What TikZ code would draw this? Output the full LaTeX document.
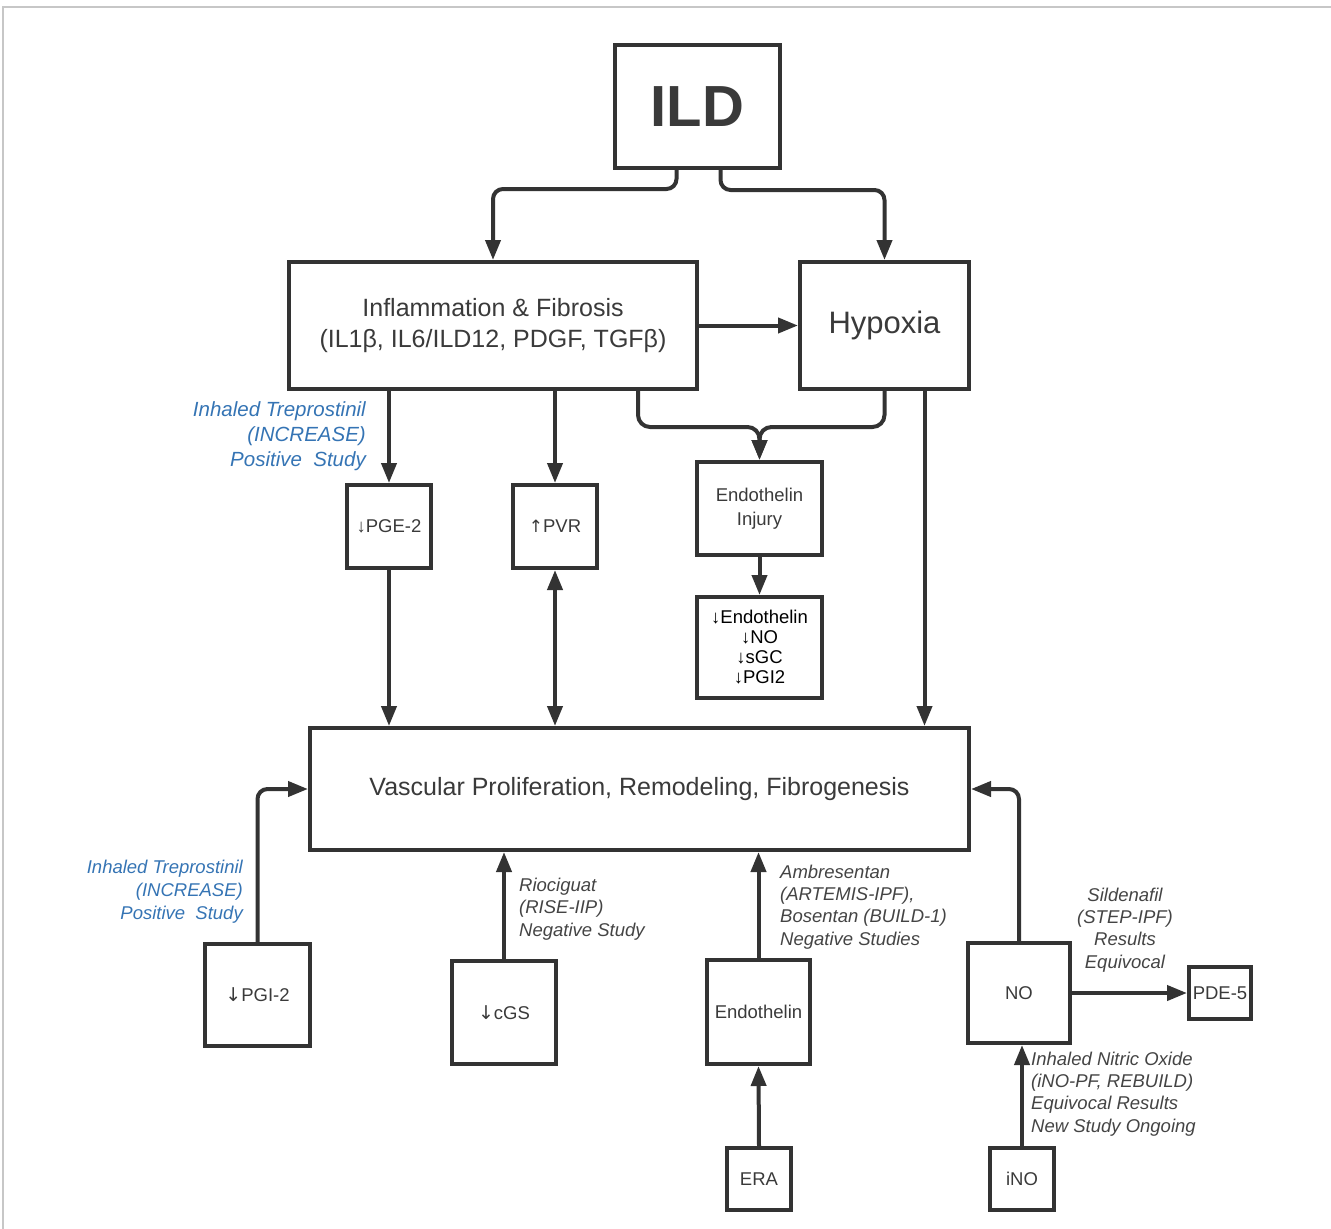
\documentclass[tikz,border=0pt]{standalone}
\usepackage{fontspec}
\setmainfont{Liberation Sans}
\newfontfamily\arrfont{DejaVu Sans}
\usetikzlibrary{arrows.meta}
\definecolor{ln}{HTML}{333333}
\definecolor{tx}{HTML}{3A3A3A}
\definecolor{bl}{HTML}{3574B4}
\definecolor{lb}{HTML}{444444}
\tikzset{
  box/.style={draw=ln, line width=4pt, inner sep=0pt, text=tx, align=center},
  arr/.style={draw=ln, line width=4pt, -{Triangle[length=20pt,width=15pt]}},
  arrb/.style={draw=ln, line width=4pt, {Triangle[length=20pt,width=15pt]}-{Triangle[length=20pt,width=15pt]}},
  lab/.style={inner sep=0pt, text=lb, font=\fontsize{18.5}{22.3}\selectfont\itshape},
  blab/.style={inner sep=0pt, text=bl, align=right},
  sbox/.style={box, font=\fontsize{18.5}{22}\selectfont}
}
\begin{document}
\begin{tikzpicture}[x=1pt,y=-1pt]
\useasboundingbox (0,0) rectangle (1331,1229);
\draw[black!22, line width=2pt] (3,1229) -- (3,7) -- (1331,7);

\node[box, minimum width=165pt, minimum height=123pt, font=\fontsize{58}{60}\selectfont\bfseries] (ild) at (697.5,106.5) {ILD};
\node[box, minimum width=408pt, minimum height=127pt, font=\fontsize{25}{31}\selectfont] (infl) at (493,325.5) {Inflammation \& Fibrosis\\(IL1β, IL6/ILD12, PDGF, TGFβ)};
\node[box, minimum width=169pt, minimum height=127pt, font=\fontsize{31}{34}\selectfont] (hyp) at (884.5,325.5) {Hypoxia};
\node[sbox, minimum width=84pt, minimum height=83pt] (pge) at (389,526.5) {↓PGE-2};
\node[sbox, minimum width=84pt, minimum height=83pt] (pvr) at (555,526.5) {{\arrfont\fontsize{17}{20}\selectfont ↑}PVR};
\node[sbox, minimum width=125pt, minimum height=93pt, font=\fontsize{18.5}{24}\selectfont] (einj) at (759.5,508.5) {Endothelin\\Injury};
\node[sbox, minimum width=125pt, minimum height=101pt, text=black, font=\fontsize{18.5}{20}\selectfont] (edown) at (759.5,647.5) {↓Endothelin\\↓NO\\↓sGC\\↓PGI2};
\node[box, minimum width=659pt, minimum height=122pt, font=\fontsize{25}{30}\selectfont] (vasc) at (639.5,789) {Vascular Proliferation, Remodeling, Fibrogenesis};
\node[sbox, minimum width=105pt, minimum height=102pt] (pgi) at (257.5,995) {{\arrfont\fontsize{19}{20}\selectfont ↓}PGI-2};
\node[sbox, minimum width=104pt, minimum height=103pt] (cgs) at (504,1012.5) {{\arrfont\fontsize{19}{20}\selectfont ↓}cGS};
\node[sbox, minimum width=103pt, minimum height=104pt] (endo) at (758.5,1012) {Endothelin};
\node[sbox, minimum width=102pt, minimum height=100pt] (no) at (1019,993) {NO};
\node[sbox, minimum width=62pt, minimum height=52pt] (pde) at (1220,993) {PDE-5};
\node[sbox, minimum width=64pt, minimum height=62pt] (era) at (759,1179) {ERA};
\node[sbox, minimum width=64pt, minimum height=62pt] (ino) at (1022,1179) {iNO};

% connectors
\draw[arr, rounded corners=10pt] ([xshift=-21pt]ild.south) -- ++(0,19) -| (infl.north);
\draw[arr, rounded corners=10pt] ([xshift=23pt]ild.south) -- ++(0,20) -| (hyp.north);
\draw[arr] (infl.east) -- (hyp.west);
\draw[arr] (pge.north |- infl.south) -- (pge.north);
\draw[arr] (pvr.north |- infl.south) -- (pvr.north);
\draw[arr, rounded corners=12pt] ([xshift=145pt]infl.south) -- ++(0,36) -| (einj.north);
\draw[arr, rounded corners=12pt] (hyp.south) -- ++(0,36) -| (einj.north);
\draw[arr] (einj.south) -- (edown.north);
\draw[arr] (pge.south) -- (pge.south |- vasc.north);
\draw[arrb] (pvr.south) -- (pvr.south |- vasc.north);
\draw[arr] ([xshift=40pt]hyp.south) -- ([xshift=40pt]hyp.south |- vasc.north);
\draw[arr, rounded corners=10pt] (pgi.north) |- (vasc.west);
\draw[arr] (cgs.north) -- (cgs.north |- vasc.south);
\draw[arr] (endo.north) -- (endo.north |- vasc.south);
\draw[arr] (era.north) -- (endo.south);
\draw[arr, rounded corners=10pt] (no.north) |- (vasc.east);
\draw[arr] (no.east) -- (pde.west);
\draw[arr] (ino.north) -- (ino.north |- no.south);

% labels
\node[blab, anchor=east, font=\fontsize{20.5}{25}\selectfont\itshape] (t1) at (366,436) {Inhaled Treprostinil\\(INCREASE)\\Positive\ \ Study};
\node[blab, anchor=east, font=\fontsize{18.5}{23}\selectfont\itshape] (t2) at (243,892) {Inhaled Treprostinil\\(INCREASE)\\Positive\ \ Study};
\node[lab, anchor=west, align=left] (rio) at (519,909) {Riociguat\\(RISE-IIP)\\Negative Study};
\node[lab, anchor=west, align=left] (amb) at (780,907) {Ambresentan\\(ARTEMIS-IPF),\\Bosentan (BUILD-1)\\Negative Studies};
\node[lab, align=center] (sil) at (1125,930) {Sildenafil\\(STEP-IPF)\\Results\\Equivocal};
\node[lab, anchor=west, align=left] (inl) at (1031,1094) {Inhaled Nitric Oxide\\(iNO-PF, REBUILD)\\Equivocal Results\\New Study Ongoing};
\end{tikzpicture}
\end{document}
